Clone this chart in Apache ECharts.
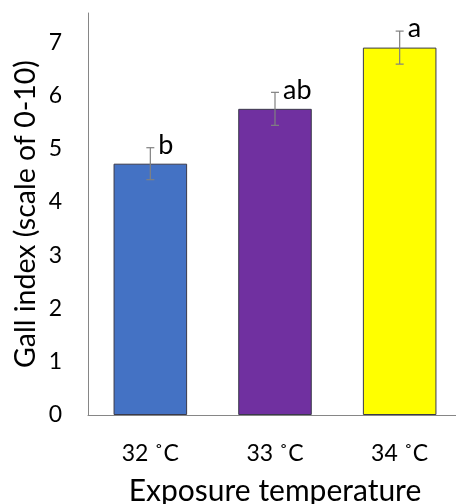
<!DOCTYPE html>
<html>
<head>
<meta charset="utf-8">
<script src="https://cdn.jsdelivr.net/npm/echarts@6/dist/echarts.min.js"></script>
<style>
  html, body { margin: 0; padding: 0; background: #fff; }
  #chart { width: 456px; height: 504px; }
</style>
</head>
<body>
<div id="chart"></div>
<script>
// data
var temps = ["32 ˚C", "33 ˚C", "34 ˚C"];
var gallIndex = [4.72, 5.75, 6.90];
var gallErr = [0.30, 0.31, 0.31];
var groupLetters = ["b", "ab", "a"];
var barColors = ["#4472C4", "#7030A0", "#FFFF00"];
var yTicks = [0, 1, 2, 3, 4, 5, 6, 7];

var fontFam = "Lato, 'Open Sans', sans-serif";

var chart = echarts.init(document.getElementById("chart"));

var errData = gallIndex.map(function (v, i) {
  return [i, v - gallErr[i], v + gallErr[i]];
});

var option = {
  animation: false,
  grid: { left: 88, right: -6, top: 13, bottom: 89, outerBoundsMode: "none", containLabel: false },
  xAxis: {
    type: "category",
    data: temps,
    name: "Exposure temperature",
    nameLocation: "middle",
    nameGap: 61,
    nameMoveOverlap: false,
    nameTextStyle: { fontFamily: fontFam, fontSize: 30, color: "#000" },
    axisLine: { lineStyle: { color: "#868686", width: 1 } },
    axisTick: { show: false },
    axisLabel: { fontFamily: fontFam, fontSize: 23, color: "#000", margin: 27 }
  },
  yAxis: {
    type: "value",
    min: 0,
    max: 7.55,
    interval: 1,
    name: "Gall index (scale of 0-10)",
    nameLocation: "middle",
    nameGap: 48,
    nameMoveOverlap: false,
    nameTextStyle: { fontFamily: fontFam, fontSize: 28.5, color: "#000" },
    axisLine: { show: true, lineStyle: { color: "#868686", width: 1 } },
    axisTick: { show: false },
    splitLine: { show: false },
    axisLabel: {
      fontFamily: fontFam, fontSize: 23, color: "#000", margin: 26,
      showMaxLabel: false,
      formatter: function (v) { return yTicks.indexOf(v) >= 0 ? String(v) : ""; }
    }
  },
  series: [
    {
      type: "bar",
      barWidth: "59%",
      data: gallIndex.map(function (v, i) {
        return { value: v, itemStyle: { color: barColors[i], borderColor: "#3a3a4a", borderWidth: 1 } };
      })
    },
    {
      type: "custom",
      data: errData,
      z: 10,
      renderItem: function (params, api) {
        var lo = api.coord([api.value(0), api.value(1)]);
        var hi = api.coord([api.value(0), api.value(2)]);
        var cap = 4;
        var st = { stroke: "#808080", lineWidth: 1.2 };
        return {
          type: "group",
          children: [
            { type: "line", shape: { x1: hi[0], y1: hi[1], x2: lo[0], y2: lo[1] }, style: st },
            { type: "line", shape: { x1: hi[0] - cap, y1: hi[1], x2: hi[0] + cap, y2: hi[1] }, style: st },
            { type: "line", shape: { x1: lo[0] - cap, y1: lo[1], x2: lo[0] + cap, y2: lo[1] }, style: st },
            {
              type: "text",
              style: {
                text: groupLetters[params.dataIndex],
                x: hi[0] + 8, y: hi[1] + 11,
                textAlign: "left", textVerticalAlign: "bottom",
                font: "27px " + fontFam, fill: "#000"
              }
            }
          ]
        };
      }
    }
  ]
};
chart.setOption(option);
</script>
</body>
</html>
